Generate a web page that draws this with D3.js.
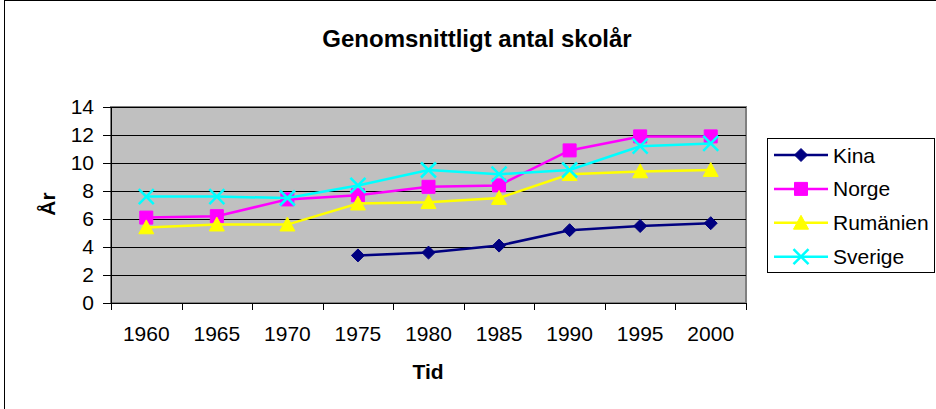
<!DOCTYPE html>
<html lang="sv">
<head>
<meta charset="UTF-8">
<title>Genomsnittligt antal skolår</title>
<script src="https://d3js.org/d3.v7.min.js"></script>
<style>
  body { margin: 0; background: #fff; }
  text { font-family: "Liberation Sans", Arial, sans-serif; fill: #000; }
</style>
</head>
<body>
<div id="chart"></div>
<script>
// data
const years = [1960, 1965, 1970, 1975, 1980, 1985, 1990, 1995, 2000];
const kina     = [null, null, null, 3.4, 3.6, 4.1, 5.2, 5.5, 5.7];
const norge    = [6.1, 6.2, 7.4, 7.7, 8.3, 8.4, 10.9, 11.9, 11.9];
const rumanien = [5.4, 5.6, 5.6, 7.1, 7.2, 7.5, 9.2, 9.4, 9.5];
const sverige  = [7.6, 7.6, 7.5, 8.4, 9.5, 9.2, 9.5, 11.2, 11.4];
const yTicks = [0, 2, 4, 6, 8, 10, 12, 14];

const series = [
  { name: "Kina", values: kina, color: "#000080", symbol: "diamond" },
  { name: "Norge", values: norge, color: "#FF00FF", symbol: "square" },
  { name: "Rumänien", values: rumanien, color: "#FFFF00", symbol: "triangle" },
  { name: "Sverige", values: sverige, color: "#00FFFF", symbol: "x" }
];

const W = 936, H = 409;
const plot = { left: 111, top: 107, right: 746, bottom: 303 };

const svg = d3.select("#chart").append("svg")
  .attr("width", W).attr("height", H);

// outer chart border
svg.append("rect")
  .attr("x", 4.5).attr("y", 0.5)
  .attr("width", W + 10).attr("height", H + 10)
  .attr("fill", "#fff").attr("stroke", "#000").attr("stroke-width", 1);

const x = d3.scaleBand().domain(years).range([plot.left, plot.right]);
const y = d3.scaleLinear().domain([0, 14]).range([plot.bottom, plot.top]);

// plot background
svg.append("rect")
  .attr("x", plot.left).attr("y", plot.top)
  .attr("width", plot.right - plot.left).attr("height", plot.bottom - plot.top)
  .attr("fill", "#C0C0C0")
  .attr("stroke", "#808080").attr("stroke-width", 2);

// gridlines
svg.append("g").selectAll("line")
  .data(yTicks.filter(d => d > 0))
  .join("line")
  .attr("x1", plot.left).attr("x2", plot.right)
  .attr("y1", d => Math.round(y(d)) + 0.5).attr("y2", d => Math.round(y(d)) + 0.5)
  .attr("stroke", "#000").attr("stroke-width", 1);

// y axis
const yAxis = svg.append("g")
  .attr("transform", `translate(${plot.left},0)`)
  .call(d3.axisLeft(y).tickValues(yTicks).tickSize(8).tickPadding(9));
yAxis.selectAll("text").style("font-size", "21px");
yAxis.selectAll("line, path").attr("stroke", "#000");

// x axis: ticks between categories
const xAxis = svg.append("g")
  .attr("transform", `translate(0,${plot.bottom})`)
  .call(d3.axisBottom(x).tickSizeOuter(0).tickSize(0).tickPadding(23));
xAxis.selectAll("text").style("font-size", "21px");
xAxis.select("path").attr("stroke", "#000");
const bounds = years.map(d => x(d)).concat([plot.right]);
xAxis.selectAll("line.sep")
  .data(bounds)
  .join("line")
  .attr("class", "sep")
  .attr("x1", d => Math.round(d) + 0.5).attr("x2", d => Math.round(d) + 0.5)
  .attr("y1", 0).attr("y2", 7)
  .attr("stroke", "#000");

// lines and markers
const line = d3.line()
  .defined(d => d.v != null)
  .x(d => x(d.year) + x.bandwidth() / 2)
  .y(d => y(d.v));

series.forEach(s => {
  const pts = years.map((yr, i) => ({ year: yr, v: s.values[i] }));
  svg.append("path")
    .datum(pts)
    .attr("d", line)
    .attr("fill", "none")
    .attr("stroke", s.color)
    .attr("stroke-width", 2.5);

  const g = svg.append("g");
  pts.filter(d => d.v != null).forEach(d => {
    drawMarker(g, s, x(d.year) + x.bandwidth() / 2, y(d.v));
  });
});

function drawMarker(g, s, cx, cy) {
  let d;
  if (s.symbol === "x") {
    const r = 7.5;
    g.append("path")
      .attr("d", `M${cx - r},${cy - r}L${cx + r},${cy + r}M${cx - r},${cy + r}L${cx + r},${cy - r}`)
      .attr("stroke", s.color).attr("stroke-width", 2.5).attr("fill", "none");
    return;
  }
  if (s.symbol === "diamond") {
    const r = 6.5;
    d = `M${cx},${cy - r}L${cx + r},${cy}L${cx},${cy + r}L${cx - r},${cy}Z`;
  } else if (s.symbol === "square") {
    const r = 6.5;
    d = `M${cx - r},${cy - r}H${cx + r}V${cy + r}H${cx - r}Z`;
  } else {
    const r = 7.5;
    d = `M${cx},${cy - r}L${cx + r},${cy + r * 0.85}L${cx - r},${cy + r * 0.85}Z`;
  }
  g.append("path").attr("d", d)
    .attr("fill", s.color)
    .attr("stroke", s.color).attr("stroke-width", 1);
}

// title
svg.append("text")
  .attr("x", 477).attr("y", 47)
  .attr("text-anchor", "middle")
  .style("font-size", "24px").style("font-weight", "bold")
  .text("Genomsnittligt antal skolår");

// axis titles
svg.append("text")
  .attr("x", 428).attr("y", 379)
  .attr("text-anchor", "middle")
  .style("font-size", "21px").style("font-weight", "bold")
  .text("Tid");

svg.append("text")
  .attr("transform", "translate(55,204) rotate(-90)")
  .attr("text-anchor", "middle")
  .style("font-size", "21px").style("font-weight", "bold")
  .text("År");

// legend
const lg = svg.append("g");
lg.append("rect")
  .attr("x", 767.5).attr("y", 138.5)
  .attr("width", 167).attr("height", 134)
  .attr("fill", "#fff").attr("stroke", "#000");

series.forEach((s, i) => {
  const ly = 155 + i * 33.9;
  lg.append("line")
    .attr("x1", 774).attr("x2", 828)
    .attr("y1", ly).attr("y2", ly)
    .attr("stroke", s.color).attr("stroke-width", 2.5);
  drawMarker(lg, s, 801, ly);
  lg.append("text")
    .attr("x", 833).attr("y", ly + 7.5)
    .style("font-size", "21px")
    .text(s.name);
});
</script>
</body>
</html>
